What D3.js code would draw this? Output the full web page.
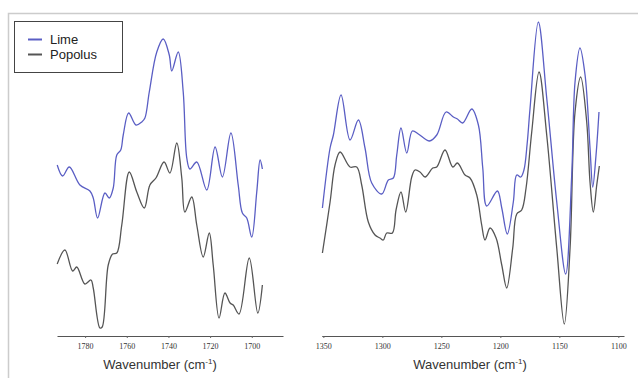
<!DOCTYPE html>
<html lang="en">
<head>
    <meta charset="UTF-8">
    <title>Lime / Popolus spectra</title>
    <style>
        body { margin: 0; background: #fff; }
        svg { display: block; }
    </style>
</head>
<body>
    <svg id="chart" width="638" height="378"></svg>
    <script src="https://d3js.org/d3.v7.min.js"></script>
    <script>
        // series names
        const seriesNames = ["Lime", "Popolus"];
        const seriesColors = ["#5a5ec4", "#555555"];

        // left panel (carbonyl region), wavenumber / intensity
        const limeLeftWn = [1793.4, 1790.8, 1787.6, 1782.5, 1777.7, 1776.1, 1774.0, 1770.5, 1768.4, 1766.5, 1764.8, 1762.9, 1761.7, 1759.1, 1755.6, 1752.8, 1751.3, 1749.2, 1745.6, 1742.5, 1739.6, 1738.4, 1735.3, 1732.9, 1731.2, 1729.7, 1726.4, 1721.6, 1717.6, 1714.1, 1710.0, 1706.5, 1704.5, 1702.4, 1700.0, 1697.6, 1696.0, 1694.9];
        const limeLeftVal = [171, 160, 169, 151, 145, 138, 118, 143, 138, 148, 181, 186, 201, 223, 211, 214, 218, 244, 284, 297, 281, 265, 284, 244, 178, 167, 174, 146, 189, 159, 203, 151, 123, 118, 99, 144, 176, 167];

        const popLeftWn = [1793.4, 1789.7, 1786.0, 1784.0, 1780.1, 1777.2, 1776.1, 1772.9, 1771.8, 1768.9, 1766.8, 1764.8, 1762.4, 1758.8, 1755.2, 1751.6, 1748.9, 1746.0, 1742.1, 1739.3, 1736.0, 1733.6, 1732.1, 1728.8, 1726.4, 1723.3, 1720.4, 1718.5, 1715.7, 1712.9, 1710.4, 1708.9, 1706.1, 1701.2, 1697.1, 1694.9];
        const popLeftVal = [72, 86, 65, 69, 52, 56, 48, 8, 9, 71, 82, 83, 111, 164, 144, 128, 151, 158, 174, 163, 193, 158, 124, 139, 111, 79, 103, 71, 18, 43, 33, 31, 22, 78, 23, 51];

        // right panel (fingerprint region)
        const limeRightWn = [1350.8, 1344.3, 1341.5, 1335.0, 1327.4, 1320.3, 1314.7, 1309.0, 1300.5, 1294.9, 1290.7, 1287.8, 1284.2, 1279.3, 1274.6, 1269.5, 1263.8, 1260.2, 1253.9, 1246.0, 1239.8, 1236.4, 1231.9, 1224.2, 1218.6, 1214.9, 1211.5, 1202.5, 1198.8, 1194.1, 1189.0, 1186.1, 1182.7, 1180.0, 1177.3, 1174.8, 1167.8, 1160.7, 1152.2, 1144.6, 1139.5, 1136.7, 1132.5, 1128.2, 1124.0, 1121.7, 1118.9, 1116.4];
        const limeRightVal = [128, 188, 201, 241, 196, 216, 188, 153, 142, 156, 158, 181, 208, 183, 205, 202, 197, 195, 201, 224, 219, 217, 213, 227, 211, 168, 130, 145, 128, 102, 134, 161, 159, 166, 192, 228, 314, 238, 134, 62, 161, 254, 288, 261, 188, 149, 181, 224];

        const popRightWn = [1350.8, 1344.3, 1340.1, 1335.8, 1327.4, 1321.7, 1317.5, 1311.9, 1306.2, 1302.0, 1299.2, 1296.3, 1291.5, 1288.4, 1284.2, 1280.2, 1275.1, 1272.3, 1268.1, 1263.8, 1257.3, 1253.9, 1246.9, 1240.3, 1236.4, 1229.9, 1225.7, 1220.0, 1215.8, 1213.0, 1208.7, 1203.6, 1198.8, 1194.6, 1189.5, 1186.1, 1181.9, 1178.2, 1173.4, 1167.2, 1160.7, 1152.2, 1145.8, 1140.9, 1136.7, 1131.9, 1126.8, 1124.0, 1121.2, 1118.3, 1116.1];
        const popRightVal = [83, 134, 171, 184, 169, 169, 151, 114, 101, 98, 96, 103, 103, 126, 144, 124, 159, 166, 164, 159, 168, 169, 186, 169, 173, 161, 158, 141, 111, 96, 108, 98, 71, 48, 88, 122, 126, 148, 204, 264, 201, 88, 12, 88, 224, 259, 214, 154, 124, 151, 170];

        const leftTicks = [1780, 1760, 1740, 1720, 1700];
        const rightTicks = [1350, 1300, 1250, 1200, 1150, 1100];

        const svg = d3.select("#chart");
        const axisY = 336;

        // outer frame (top + left edge only visible)
        svg.append("path")
            .attr("d", "M8.5,378 V13.5 H638")
            .attr("fill", "none")
            .attr("stroke", "#cccccc")
            .attr("stroke-width", 1.5);

        // common intensity scale
        const y = d3.scaleLinear().domain([0, 320]).range([axisY, 16]);

        const zip = (wn, val) => wn.map((w, i) => ({ w: w, v: val[i] }));

        const panels = [
            {
                domain: [1793.5, 1685], range: [57, 283], ticks: leftTicks, titleX: 160,
                series: [zip(limeLeftWn, limeLeftVal), zip(popLeftWn, popLeftVal)]
            },
            {
                domain: [1351.4, 1095.2], range: [321.7, 624], ticks: rightTicks, titleX: 470,
                series: [zip(limeRightWn, limeRightVal), zip(popRightWn, popRightVal)]
            }
        ];

        panels.forEach(p => {
            const x = d3.scaleLinear().domain(p.domain).range(p.range);

            const line = d3.line()
                .x(d => x(d.w))
                .y(d => y(d.v))
                .curve(d3.curveCatmullRom.alpha(0.5));

            // draw popolus first so lime sits above
            [1, 0].forEach(i => {
                svg.append("path")
                    .datum(p.series[i])
                    .attr("d", line)
                    .attr("fill", "none")
                    .attr("stroke", seriesColors[i])
                    .attr("stroke-width", 1.3);
            });

            const axis = svg.append("g")
                .attr("transform", `translate(0,${axisY})`)
                .call(d3.axisBottom(x)
                    .tickValues(p.ticks)
                    .tickFormat(d3.format("d"))
                    .tickSize(2).tickSizeOuter(0).tickPadding(5));
            axis.select(".domain").attr("stroke", "#555").attr("stroke-width", 1.2);
            axis.selectAll(".tick line").attr("stroke", "#666");
            axis.selectAll(".tick text")
                .attr("font-family", "'Liberation Serif', serif")
                .attr("font-size", 8)
                .attr("fill", "#333");

            // axis title
            const t = svg.append("text")
                .attr("x", p.titleX)
                .attr("y", 369)
                .attr("text-anchor", "middle")
                .attr("font-family", "'Liberation Sans', Arial, sans-serif")
                .attr("font-size", 13)
                .attr("fill", "#333");
            t.append("tspan").text("Wavenumber  (cm");
            t.append("tspan").attr("dy", -5).attr("font-size", 8).text("-1");
            t.append("tspan").attr("dy", 5).text(")");
        });

        // legend
        const legend = svg.append("g");
        legend.append("rect")
            .attr("x", 14.5).attr("y", 21.5)
            .attr("width", 108).attr("height", 51)
            .attr("fill", "#fff")
            .attr("stroke", "#444")
            .attr("stroke-width", 1);
        seriesNames.forEach((name, i) => {
            const ly = 39.5 + i * 15;
            legend.append("line")
                .attr("x1", 28).attr("x2", 42)
                .attr("y1", ly).attr("y2", ly)
                .attr("stroke", seriesColors[i])
                .attr("stroke-width", 2);
            legend.append("text")
                .attr("x", 50).attr("y", ly + 4.5)
                .attr("font-family", "'Liberation Sans', Arial, sans-serif")
                .attr("font-size", 13)
                .attr("fill", "#222")
                .text(name);
        });
    </script>
</body>
</html>
